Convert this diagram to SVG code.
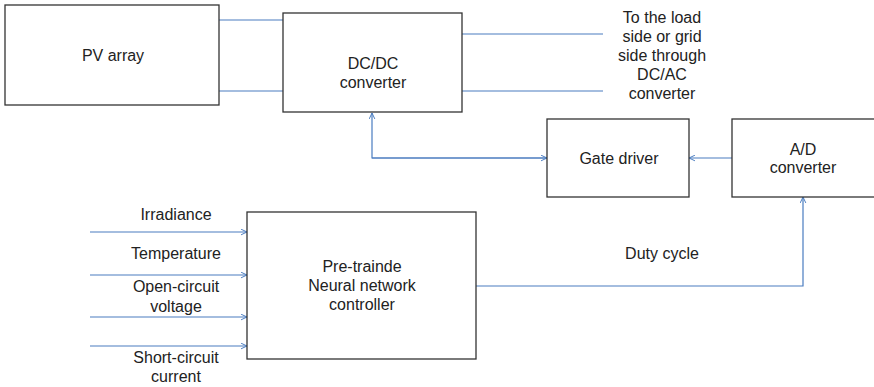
<svg xmlns="http://www.w3.org/2000/svg" width="874" height="387" viewBox="0 0 874 387">
  <style>
    .box { fill: #ffffff; stroke: #333333; stroke-width: 1.3; }
    .wire { fill: none; stroke: #4a7cc0; stroke-width: 1.2; }
    .lbl { font-family: "Liberation Sans", Arial, sans-serif; font-size: 16px; fill: #222222; text-anchor: middle; }
  </style>
  <defs>
    <marker id="chev" viewBox="0 0 10 10" refX="9.5" refY="5" markerWidth="7" markerHeight="7" markerUnits="userSpaceOnUse" orient="auto">
      <path d="M1,1 L9.5,5 L1,9" fill="none" stroke="#4a7cc0" stroke-width="1.4"/>
    </marker>
  </defs>
  <rect width="874" height="387" fill="#ffffff"/>

  <g id="connectors">
    <!-- PV array to DC/DC converter -->
    <line class="wire" x1="219" y1="20" x2="283" y2="20"/>
    <line class="wire" x1="219" y1="91" x2="283" y2="91"/>
    <!-- DC/DC converter outputs -->
    <line class="wire" x1="462" y1="34" x2="603" y2="34"/>
    <line class="wire" x1="462" y1="91" x2="603" y2="91"/>
    <!-- Gate driver feedback to DC/DC converter -->
    <path class="wire" d="M547,158 L372,158 L372,113" marker-end="url(#chev)"/>
    <path class="wire" d="M372,158 L547,158" marker-end="url(#chev)"/>
    <!-- A/D converter to Gate driver -->
    <path class="wire" d="M732,158 L689,158" marker-end="url(#chev)"/>
    <!-- Duty cycle -->
    <path class="wire" d="M476,286 L803,286 L803,197" marker-end="url(#chev)"/>
    <!-- Controller inputs -->
    <path class="wire" d="M90,232 L247,232" marker-end="url(#chev)"/>
    <path class="wire" d="M90,275 L247,275" marker-end="url(#chev)"/>
    <path class="wire" d="M90,317 L247,317" marker-end="url(#chev)"/>
    <path class="wire" d="M90,346 L247,346" marker-end="url(#chev)"/>
  </g>

  <g id="pv-array">
    <rect class="box" x="5" y="5" width="214" height="100"/>
    <text class="lbl" x="113" y="61">PV array</text>
  </g>

  <g id="dcdc-converter">
    <rect class="box" x="283" y="13" width="179" height="99"/>
    <text class="lbl" x="373" y="69">DC/DC</text>
    <text class="lbl" x="373" y="88">converter</text>
  </g>

  <g id="output-note">
    <text class="lbl" x="662" y="23">To the load</text>
    <text class="lbl" x="662" y="42">side or grid</text>
    <text class="lbl" x="662" y="61">side through</text>
    <text class="lbl" x="662" y="80">DC/AC</text>
    <text class="lbl" x="662" y="99">converter</text>
  </g>

  <g id="gate-driver">
    <rect class="box" x="547" y="119" width="142" height="78"/>
    <text class="lbl" x="619" y="164">Gate driver</text>
  </g>

  <g id="ad-converter">
    <rect class="box" x="732" y="119" width="145" height="78"/>
    <text class="lbl" x="803" y="155">A/D</text>
    <text class="lbl" x="803" y="173">converter</text>
  </g>

  <g id="nn-controller">
    <rect class="box" x="247" y="212" width="229" height="147"/>
    <text class="lbl" x="362" y="272">Pre-trainde</text>
    <text class="lbl" x="362" y="291">Neural network</text>
    <text class="lbl" x="362" y="310">controller</text>
  </g>

  <g id="input-labels">
    <text class="lbl" x="176" y="220">Irradiance</text>
    <text class="lbl" x="176" y="259">Temperature</text>
    <text class="lbl" x="176" y="292">Open-circuit</text>
    <text class="lbl" x="176" y="312">voltage</text>
    <text class="lbl" x="176" y="363">Short-circuit</text>
    <text class="lbl" x="176" y="382">current</text>
  </g>

  <g id="duty-label">
    <text class="lbl" x="662" y="259">Duty cycle</text>
  </g>
</svg>
